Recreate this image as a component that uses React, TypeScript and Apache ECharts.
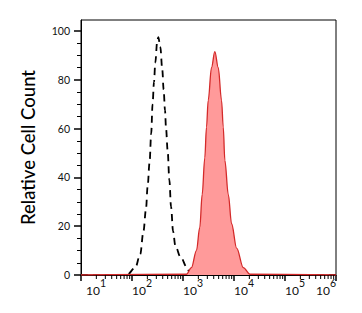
import React, { useEffect, useRef } from "react";
import * as echarts from "echarts";

// Isotype control (dashed black) – fluorescence intensity vs relative count
const controlX = [10, 79, 116, 145, 168, 188, 202, 221, 238, 253, 270, 286, 313, 328, 359, 393, 417, 444, 465, 500, 540, 583, 638, 708, 889, 1205, 1400, 1000000];
const controlY = [0, 0, 3, 8.5, 18, 27, 36, 46, 58, 70, 79, 87, 96, 97.5, 93.5, 84, 76, 67.5, 60, 51, 39, 28, 18, 12, 7.5, 3, 0, 0];

// Stained sample (red filled)
const sampleX = [10, 1167, 1462, 1835, 2133, 2377, 2674, 2889, 3120, 3622, 4208, 4909, 5700, 6155, 6617, 7725, 8975, 11255, 15237, 20560, 1000000];
const sampleY = [0, 0.3, 3, 10, 19.5, 33, 48, 60.6, 71.6, 85, 91.5, 85, 71.6, 60.6, 47, 33, 21, 11, 3, 0.3, 0];

const yTicks = [0, 20, 40, 60, 80, 100];
const decades = [1, 2, 3, 4, 5];
const minorSteps = [2, 3, 4, 5, 6, 7, 8, 9];

const FONT = "Lato, 'Liberation Sans', sans-serif";

export default function App() {
  const ref = useRef<HTMLDivElement>(null);
  useEffect(() => {
    if (!ref.current) return;
    const chart = echarts.init(ref.current, null, { renderer: "svg" });
    const minorX: number[][] = [];
    decades.forEach((d) => minorSteps.forEach((k) => minorX.push([k * Math.pow(10, d), 0])));
    chart.setOption({
      animation: false,
      backgroundColor: "#fff",
      grid: { left: 81, right: 26, top: 20, bottom: 38, show: true, borderColor: "#000", borderWidth: 1 },
      xAxis: {
        type: "log",
        logBase: 10,
        min: 10,
        max: 1000000,
        axisLine: { lineStyle: { color: "#000", width: 1 } },
        axisTick: { show: true, length: 6, lineStyle: { color: "#000", width: 1.5 } },
        splitLine: { show: false },
        axisLabel: {
          margin: 2,
          align: "left",
          alignMaxLabel: "right",
          formatter: (v: number) => {
            const e = Math.round(Math.log10(v));
            return e === 1 ? `{b1|10}{s|${e}}` : `{b|10}{s|${e}}`;
          },
          rich: {
            b: { fontSize: 12, fontFamily: FONT, color: "#111", lineHeight: 19, verticalAlign: "bottom" },
            b1: { fontSize: 12, fontFamily: FONT, color: "#111", lineHeight: 19, verticalAlign: "bottom", padding: [0, 0, 0, 5] },
            s: { fontSize: 10.5, fontFamily: FONT, color: "#111", lineHeight: 19, verticalAlign: "top" },
          },
        },
      },
      yAxis: {
        type: "value",
        min: 0,
        max: 104.5,
        interval: 20,
        name: "Relative Cell Count",
        nameLocation: "middle",
        nameGap: 44,
        nameTextStyle: { fontSize: 18.5, fontFamily: FONT, color: "#000", fontWeight: 500 },
        axisLine: { show: true, lineStyle: { color: "#000", width: 1 } },
        axisTick: { show: true, length: 7, customValues: yTicks, lineStyle: { color: "#000", width: 1.5 } },
        minorTick: { show: true, splitNumber: 4, length: 4, lineStyle: { color: "#000", width: 1 } },
        splitLine: { show: false },
        axisLabel: { margin: 11, fontSize: 10.5, fontFamily: FONT, color: "#111", customValues: yTicks },
      },
      series: [
        {
          type: "line",
          data: sampleX.map((x, i) => [x, sampleY[i]]),
          smooth: 0.35,
          smoothMonotone: "x",
          showSymbol: false,
          lineStyle: { color: "#d42a2a", width: 1.3 },
          areaStyle: { color: "#ff9a9a", opacity: 1 },
          z: 3,
        },
        {
          type: "line",
          data: controlX.map((x, i) => [x, controlY[i]]),
          smooth: 0.35,
          smoothMonotone: "x",
          showSymbol: false,
          lineStyle: { color: "#000", width: 1.8, type: [7, 5] },
          z: 2,
        },
        {
          type: "custom",
          clip: false,
          data: minorX,
          silent: true,
          renderItem: (_p: any, api: any) => {
            const pt = api.coord([api.value(0), api.value(1)]);
            return {
              type: "line",
              shape: { x1: pt[0], y1: pt[1], x2: pt[0], y2: pt[1] + 4 },
              style: { stroke: "#000", lineWidth: 1 },
            };
          },
          z: 5,
        },
      ],
    });
    return () => chart.dispose();
  }, []);
  return <div ref={ref} style={{ position: "fixed", left: 0, top: 0, width: 362, height: 313 }} />;
}
